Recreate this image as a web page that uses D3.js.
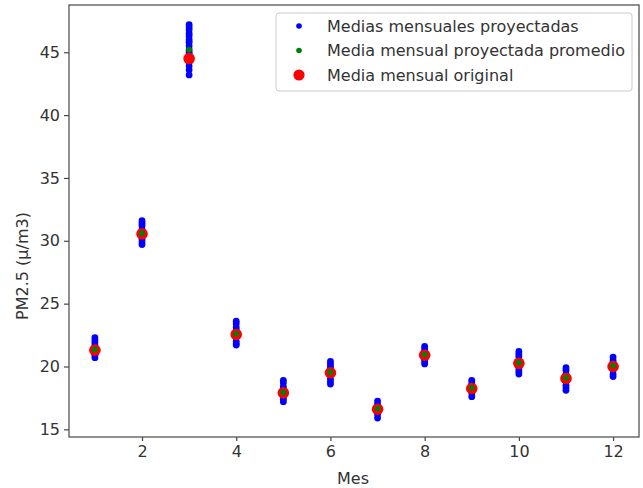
<!DOCTYPE html>
<html>
<head>
<meta charset="utf-8">
<script src="https://cdn.jsdelivr.net/npm/d3@7/dist/d3.min.js"></script>
<style>
  html, body { margin: 0; padding: 0; background: #fff; }
  svg { display: block; }
  text { font-family: "DejaVu Sans", sans-serif; fill: #333; }
</style>
</head>
<body>
<script>
// Monthly PM2.5 means: projected ensemble, their average, and the original series
const meses = [1, 2, 3, 4, 5, 6, 7, 8, 9, 10, 11, 12];

const mediaOriginal = [21.3, 30.55, 44.5, 22.55, 17.9, 19.5, 16.6, 20.9, 18.25, 20.25, 19.05, 20.0];
const mediaPromedio = [21.35, 30.6, 45.2, 22.6, 17.95, 19.55, 16.65, 20.95, 18.3, 20.3, 19.1, 20.05];

const proyectadas = [
  [22.3, 22.1, 21.9, 21.7, 21.5, 21.4, 21.2, 21.0, 20.9, 20.7],
  [31.6, 31.4, 31.2, 30.9, 30.7, 30.5, 30.3, 30.1, 29.9, 29.7],
  [47.2, 47.0, 46.8, 46.5, 46.3, 46.0, 45.8, 45.5, 45.2, 45.0, 44.8, 44.5, 44.2, 43.9, 43.6, 43.2],
  [23.6, 23.4, 23.1, 22.9, 22.7, 22.5, 22.3, 22.0, 21.8, 21.7],
  [18.9, 18.7, 18.4, 18.2, 18.0, 17.8, 17.6, 17.4, 17.2],
  [20.4, 20.2, 20.0, 19.8, 19.5, 19.3, 19.0, 18.8, 18.6],
  [17.25, 17.0, 16.8, 16.6, 16.4, 16.2, 15.9],
  [21.6, 21.4, 21.2, 21.0, 20.8, 20.6, 20.4, 20.2],
  [18.9, 18.7, 18.5, 18.3, 18.1, 17.9, 17.6],
  [21.2, 21.0, 20.8, 20.5, 20.3, 20.1, 19.8, 19.6, 19.4],
  [19.9, 19.7, 19.4, 19.2, 19.0, 18.8, 18.5, 18.3, 18.1],
  [20.75, 20.5, 20.3, 20.1, 19.9, 19.7, 19.4, 19.2]
];

const xTicks = [2, 4, 6, 8, 10, 12];
const yTicks = [15, 20, 25, 30, 35, 40, 45];
const legendLabels = ["Medias mensuales proyectadas", "Media mensual proyectada promedio", "Media mensual original"];

const W = 643, H = 488;
const margin = { left: 69, right: 4, top: 5, bottom: 51 };
const FS = 16;

const svg = d3.select("body").append("svg").attr("width", W).attr("height", H);

const x = d3.scaleLinear().domain([0.45, 12.55]).range([margin.left, W - margin.right]);
const y = d3.scaleLinear().domain([14.39, 48.76]).range([H - margin.bottom, margin.top]);

// Points
const blueRows = [];
proyectadas.forEach((vals, i) => vals.forEach(v => blueRows.push({ m: meses[i], v })));

svg.append("g").selectAll("circle").data(blueRows).join("circle")
  .attr("cx", d => x(d.m)).attr("cy", d => y(d.v)).attr("r", 3.4).attr("fill", "#0000ff");

svg.append("g").selectAll("circle").data(meses).join("circle")
  .attr("cx", d => x(d)).attr("cy", (d, i) => y(mediaOriginal[i])).attr("r", 5.8).attr("fill", "#ff0000");

svg.append("g").selectAll("circle").data(meses).join("circle")
  .attr("cx", d => x(d)).attr("cy", (d, i) => y(mediaPromedio[i])).attr("r", 2.9).attr("fill", "#008000");

// Axes
const xAxis = d3.axisBottom(x).tickValues(xTicks).tickSize(4).tickPadding(5);
const yAxis = d3.axisLeft(y).tickValues(yTicks).tickSize(5).tickPadding(4);

const gx = svg.append("g").attr("transform", `translate(0,${H - margin.bottom})`).call(xAxis);
const gy = svg.append("g").attr("transform", `translate(${margin.left},0)`).call(yAxis);
[gx, gy].forEach(g => {
  g.select(".domain").remove();
  g.selectAll("line").attr("stroke", "#444").attr("stroke-width", 1.2);
  g.selectAll("text").attr("font-size", FS).attr("font-family", "DejaVu Sans, sans-serif").attr("fill", "#333");
});

// Frame
svg.append("rect")
  .attr("x", margin.left).attr("y", margin.top)
  .attr("width", W - margin.left - margin.right).attr("height", H - margin.top - margin.bottom)
  .attr("fill", "none").attr("stroke", "#555").attr("stroke-width", 1.3);

// Axis titles
svg.append("text").attr("x", (margin.left + W - margin.right) / 2 - 1).attr("y", 484)
  .attr("text-anchor", "middle").attr("font-size", FS).text("Mes");
svg.append("text").attr("transform", `translate(28,${(margin.top + H - margin.bottom) / 2 + 45}) rotate(-90)`)
  .attr("text-anchor", "middle").attr("font-size", FS).text("PM2.5 (µ/m3)");

// Legend
const lg = svg.append("g").attr("transform", "translate(276,13)");
lg.append("rect").attr("width", 356).attr("height", 78).attr("rx", 3)
  .attr("fill", "#fff").attr("fill-opacity", 0.8).attr("stroke", "#ccc");
const legendColors = ["#0000ff", "#008000", "#ff0000"];
const legendR = [2.8, 2.8, 5.6];
legendLabels.forEach((t, i) => {
  const yy = 13 + i * 24.5;
  lg.append("circle").attr("cx", 23).attr("cy", yy).attr("r", legendR[i]).attr("fill", legendColors[i]);
  lg.append("text").attr("x", 51).attr("y", yy).attr("dy", "0.36em").attr("font-size", FS).text(t);
});
</script>
</body>
</html>
